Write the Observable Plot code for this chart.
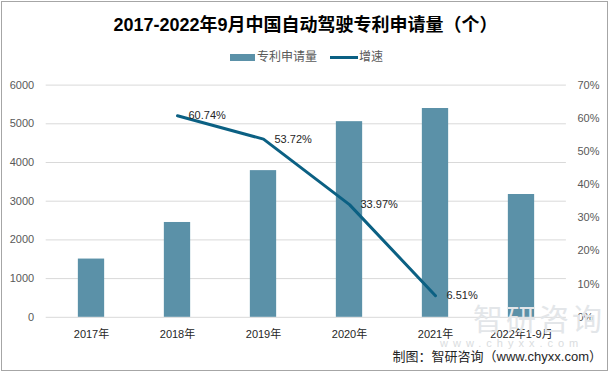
<!DOCTYPE html>
<html><head><meta charset="utf-8">
<script src="https://cdn.jsdelivr.net/npm/d3@7"></script>
<script src="https://cdn.jsdelivr.net/npm/@observablehq/plot@0.6"></script>
<style>
body{margin:0;background:#fff;}
#wrap{position:relative;width:611px;height:374px;overflow:hidden;font-family:"Liberation Sans","Noto Sans CJK SC",sans-serif;background:#fff;}
#chart{position:absolute;left:0;top:0;}
.abs{position:absolute;white-space:nowrap;}
#border{position:absolute;left:1px;top:1px;width:605px;height:368px;border:1px solid #a6a6a6;pointer-events:none;}
#title{left:0;top:0;width:611px;height:50px;line-height:50px;text-align:center;font-size:18px;font-weight:bold;color:#000;}
.lg{font-size:12px;color:#595959;line-height:14px;top:50px;}
#caption{right:9px;top:349px;font-size:13px;line-height:16px;color:#262626;}
#wm1{left:473px;top:300px;font-size:30px;line-height:40px;color:#e3e6e9;letter-spacing:3px;}
#wm2{left:440px;top:337px;font-size:11px;line-height:12px;color:#dadde0;letter-spacing:5px;}
</style></head><body>
<div id="wrap">
  <div id="chart"></div>
  <div class="abs" id="wm1">智研咨询</div>
  <div class="abs" id="wm2">www.chyxx.com</div>
  <div class="abs" id="title">2017-2022年9月中国自动驾驶专利申请量（个）</div>
  <div class="abs" style="left:230px;top:54px;width:25px;height:7px;background:#5b91a8;"></div>
  <div class="abs lg" style="left:257px;">专利申请量</div>
  <div class="abs" style="left:330px;top:56px;width:28px;height:3px;background:#0b6083;"></div>
  <div class="abs lg" style="left:359px;">增速</div>
  <div class="abs" id="caption">制图：智研咨询（www.chyxx.com）</div>
  <div id="border"></div>
</div>
<script>
const years = ["2017年","2018年","2019年","2020年","2021年","2022年1-9月"];
const patents = [1505, 2450, 3790, 5055, 5395, 3173];
const growthYears = ["2018年","2019年","2020年","2021年"];
const growth = [60.74, 53.72, 33.97, 6.51];
const leftTicks = [0, 1000, 2000, 3000, 4000, 5000, 6000];
const rightTicks = [0, 10, 20, 30, 40, 50, 60, 70];
const leftMax = 6000, rightMax = 70;
const toLeft = p => p / rightMax * leftMax;

const barData = years.map((y, i) => ({year: y, value: patents[i]}));
const lineData = growthYears.map((y, i) => ({year: y, g: growth[i], v: toLeft(growth[i])}));

const chart = Plot.plot({
  width: 611,
  height: 374,
  marginTop: 84.6,
  marginBottom: 57.2,
  marginLeft: 45.7,
  marginRight: 45.1,
  style: {fontFamily: '"Liberation Sans","Noto Sans CJK SC",sans-serif', background: "transparent"},
  x: {domain: years, padding: 0},
  y: {domain: [0, leftMax]},
  marks: [
    Plot.ruleY(leftTicks, {stroke: "#d9d9d9", strokeWidth: 1}),
    Plot.barY(barData, {x: "year", y: "value", fill: "#5b91a8", insetLeft: 29.85, insetRight: 29.85}),
    Plot.line(lineData, {x: "year", y: "v", stroke: "#0b6083", strokeWidth: 3, curve: "linear"}),
    Plot.text(lineData, {x: "year", y: "v", text: d => d.g.toFixed(2) + "%", textAnchor: "start", dx: 11, fontSize: 11, fill: "#262626"}),
    Plot.axisY({ticks: leftTicks, tickFormat: d => String(d), tickSize: 0, tickPadding: 12, fontSize: 11, color: "#595959", label: null}),
    Plot.axisY({anchor: "right", ticks: rightTicks.map(toLeft), tickFormat: d => Math.round(d / leftMax * rightMax) + "%", tickSize: 0, tickPadding: 11, fontSize: 11, color: "#595959", label: null}),
    Plot.axisX({tickSize: 0, tickPadding: 13, fontSize: 11, color: "#262626", label: null})
  ]
});
document.getElementById("chart").appendChild(chart);
</script>
</body></html>
